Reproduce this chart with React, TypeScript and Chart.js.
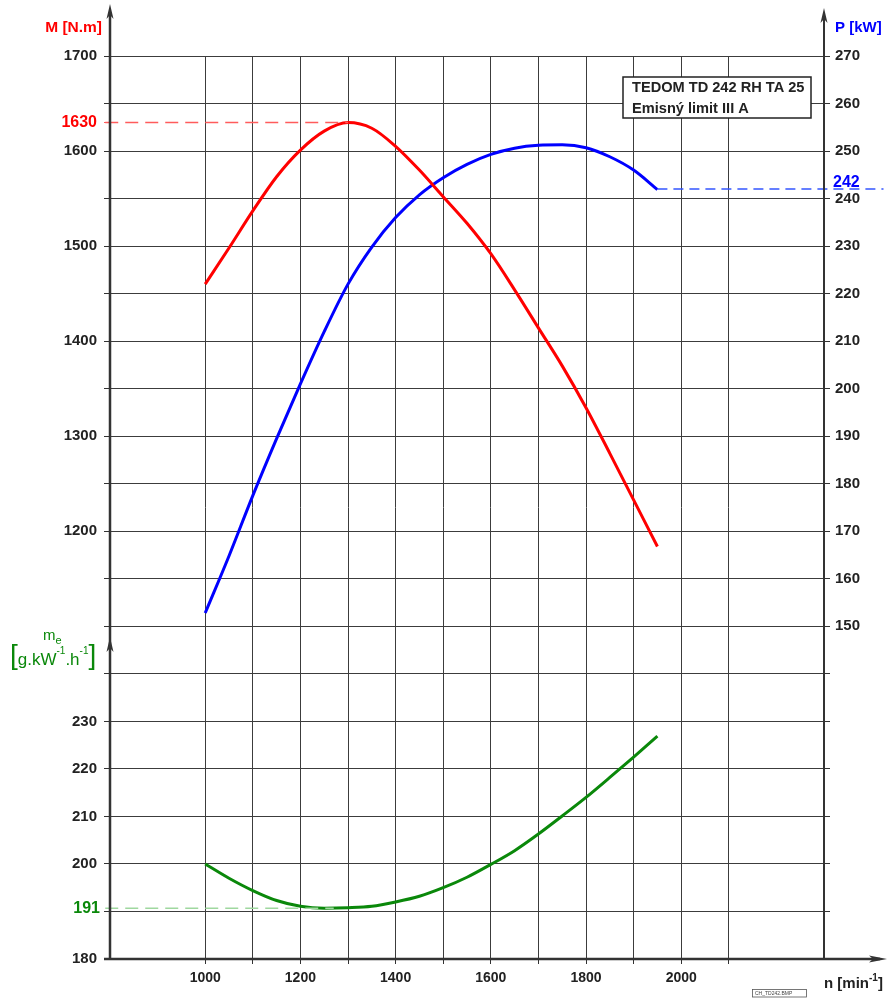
import React, { useEffect, useRef } from "react";
import { Chart, registerables } from "chart.js";

Chart.register(...registerables);

// ---- data ----
const rpm = [1000, 1050, 1100, 1150, 1200, 1250, 1300, 1350, 1400, 1450, 1500, 1550, 1600, 1650, 1700, 1750, 1800, 1850, 1900, 1950];
const torque = [1460, 1498, 1537, 1573, 1601, 1621, 1630, 1624, 1605, 1580, 1552, 1524, 1492, 1454, 1414, 1374, 1330, 1282, 1233, 1184];
const power = [152.8, 164.8, 177.5, 189.5, 201, 212, 222, 229.8, 236, 240.8, 244.4, 247.2, 249.3, 250.6, 251.2, 251.3, 250.7, 248.8, 246, 241.9];
const fuel = [200, 197, 194.4, 192.3, 191.1, 190.7, 190.8, 191.1, 192, 193.2, 195, 197.2, 199.9, 202.8, 206.3, 210.1, 214, 218.2, 222.5, 226.9];

const torqueTickLabels = [1200, 1300, 1400, 1500, 1600, 1700];
const powerTickLabels = [150, 160, 170, 180, 190, 200, 210, 220, 230, 240, 250, 260, 270];
const fuelTickLabels = [180, 200, 210, 220, 230];
const rpmTickLabels = [1000, 1200, 1400, 1600, 1800, 2000];
const rpmGrid = [1000, 1100, 1200, 1300, 1400, 1500, 1600, 1700, 1800, 1900, 2000, 2100];

const peakTorque = 1630;
const peakTorqueRpm = 1300;
const ratedPower = 242;
const ratedRpm = 1950;
const minFuel = 190.7;
const minFuelLabel = "191";
const minFuelRpm = 1270;
const dashStartRpm = 790;
const dashEndRpm = 2425;

const titleLine1 = "TEDOM TD 242 RH TA 25";
const titleLine2 = "Emisný limit III A";

// ---- styles ----
const RED = "#ff0000";
const BLUE = "#0000ff";
const GREEN = "#0a880a";
const RED_DASH = "#ff5c5c";
const BLUE_DASH = "#3355ff";
const GREEN_DASH = "#9fd89f";
const GRID = "#3c3c3c";
const AXIS = "#333333";
const TEXT = "#222222";
const FAMILY = '"Liberation Sans", Arial, Helvetica, sans-serif';
const X_TICK_FONT = { family: FAMILY, size: 14, weight: "bold" as const };
const Y_TICK_FONT = { family: FAMILY, size: 15, weight: "bold" as const };

function arrowUp(ctx: CanvasRenderingContext2D, x: number, y: number) {
  ctx.beginPath();
  ctx.moveTo(x, y);
  ctx.lineTo(x - 3.5, y + 15);
  ctx.lineTo(x, y + 11);
  ctx.lineTo(x + 3.5, y + 15);
  ctx.closePath();
  ctx.fill();
}
function arrowRight(ctx: CanvasRenderingContext2D, x: number, y: number) {
  ctx.beginPath();
  ctx.moveTo(x, y);
  ctx.lineTo(x - 18, y - 3.5);
  ctx.lineTo(x - 14, y);
  ctx.lineTo(x - 18, y + 3.5);
  ctx.closePath();
  ctx.fill();
}

const decorPlugin = {
  id: "decor",
  afterDatasetsDraw(chart: any) {
    const ctx: CanvasRenderingContext2D = chart.ctx;
    const { left, right, bottom } = chart.chartArea;
    const yP = chart.scales.yP;
    const yMe = chart.scales.yMe;
    ctx.save();

    // info box
    const bx = 623, by = 77, bw = 188, bh = 41;
    ctx.fillStyle = "#ffffff";
    ctx.fillRect(bx, by, bw, bh);
    ctx.strokeStyle = "#222";
    ctx.lineWidth = 1.5;
    ctx.strokeRect(bx, by, bw, bh);
    ctx.fillStyle = TEXT;
    ctx.font = `bold 14.6px ${FAMILY}`;
    ctx.textAlign = "left";
    ctx.textBaseline = "alphabetic";
    ctx.fillText(titleLine1, bx + 9, by + 15);
    ctx.fillText(titleLine2, bx + 9, by + 36);

    // axes
    ctx.strokeStyle = AXIS;
    ctx.fillStyle = AXIS;
    ctx.lineWidth = 2.5;
    ctx.beginPath();
    ctx.moveTo(left, bottom);
    ctx.lineTo(left, 12);
    ctx.stroke();
    arrowUp(ctx, left, 4);
    arrowUp(ctx, left, 637);
    ctx.lineWidth = 2;
    ctx.beginPath();
    ctx.moveTo(right, bottom);
    ctx.lineTo(right, 16);
    ctx.stroke();
    arrowUp(ctx, right, 8);
    ctx.lineWidth = 2.5;
    ctx.beginPath();
    ctx.moveTo(left - 6, bottom);
    ctx.lineTo(880, bottom);
    ctx.stroke();
    arrowRight(ctx, 887, bottom);

    // fuel tick labels on left
    ctx.font = `bold 15px ${FAMILY}`;
    ctx.textAlign = "right";
    ctx.textBaseline = "middle";
    ctx.fillStyle = TEXT;
    fuelTickLabels.forEach((v) => {
      ctx.fillText(String(v), left - 13, yMe.getPixelForValue(v));
    });
    ctx.font = `bold 16px ${FAMILY}`;
    ctx.fillStyle = GREEN;
    ctx.fillText(minFuelLabel, left - 10, yMe.getPixelForValue(minFuel));

    // rated power label
    ctx.fillStyle = BLUE;
    ctx.textAlign = "left";
    ctx.fillText(String(ratedPower), right + 9, yP.getPixelForValue(ratedPower) - 6);

    // axis titles
    ctx.textBaseline = "alphabetic";
    ctx.font = `bold 15.5px ${FAMILY}`;
    ctx.fillStyle = RED;
    ctx.textAlign = "right";
    ctx.fillText("M [N.m]", left - 8, 32);
    ctx.font = `bold 15px ${FAMILY}`;
    ctx.fillStyle = BLUE;
    ctx.textAlign = "left";
    ctx.fillText("P [kW]", right + 11, 32);

    // n [min-1]
    ctx.fillStyle = TEXT;
    let nx = 824;
    const nBase = 988;
    ctx.font = `bold 15px ${FAMILY}`;
    ctx.fillText("n [min", nx, nBase);
    nx += ctx.measureText("n [min").width;
    ctx.font = `bold 10px ${FAMILY}`;
    ctx.fillText("-1", nx, nBase - 7);
    nx += ctx.measureText("-1").width;
    ctx.font = `bold 15px ${FAMILY}`;
    ctx.fillText("]", nx, nBase);

    // m_e [g.kW-1.h-1]
    ctx.fillStyle = GREEN;
    ctx.font = `15px ${FAMILY}`;
    ctx.fillText("m", 43, 640);
    const mw = ctx.measureText("m").width;
    ctx.font = `11px ${FAMILY}`;
    ctx.fillText("e", 43 + mw, 644);
    let gx = 10;
    const gBase = 665;
    const parts: [string, number, number][] = [
      ["[", 28, -1],
      ["g.kW", 17, 0],
      ["-1", 10, -11],
      [".h", 17, 0],
      ["-1", 10, -11],
      ["]", 28, -1],
    ];
    parts.forEach(([t, size, dy]) => {
      ctx.font = `${size}px ${FAMILY}`;
      ctx.fillText(t, gx, gBase + dy);
      gx += ctx.measureText(t).width;
    });

    // small file label
    ctx.strokeStyle = "#555";
    ctx.lineWidth = 0.8;
    ctx.strokeRect(752.5, 989.5, 54, 7.5);
    ctx.fillStyle = "#444";
    ctx.font = `5px ${FAMILY}`;
    ctx.textAlign = "left";
    ctx.textBaseline = "middle";
    ctx.fillText("CH_TD242.BMP", 755, 993.5);

    ctx.restore();
  },
};

export default function App() {
  const canvasRef = useRef<HTMLCanvasElement | null>(null);

  useEffect(() => {
    const canvas = canvasRef.current;
    if (!canvas) return;

    const line = (ys: number[]) => rpm.map((x, i) => ({ x, y: ys[i] }));

    const chart = new Chart(canvas, {
      type: "line",
      data: {
        datasets: [
          {
            label: "peak torque",
            data: [{ x: dashStartRpm, y: peakTorque }, { x: peakTorqueRpm, y: peakTorque }],
            yAxisID: "yM",
            borderColor: RED_DASH,
            borderWidth: 1.5,
            borderDash: [13, 7],
            pointRadius: 0,
            clip: false as any,
          },
          {
            label: "rated power",
            data: [{ x: ratedRpm, y: ratedPower }, { x: dashEndRpm, y: ratedPower }],
            yAxisID: "yP",
            borderColor: BLUE_DASH,
            borderWidth: 1.5,
            borderDash: [10, 6],
            pointRadius: 0,
            clip: false as any,
          },
          {
            label: "min fuel",
            data: [{ x: dashStartRpm, y: minFuel }, { x: minFuelRpm, y: minFuel }],
            yAxisID: "yMe",
            borderColor: GREEN_DASH,
            borderWidth: 1.5,
            borderDash: [13, 7],
            pointRadius: 0,
            clip: false as any,
          },
          {
            label: "M",
            data: line(torque),
            yAxisID: "yM",
            borderColor: RED,
            borderWidth: 3,
            pointRadius: 0,
            cubicInterpolationMode: "monotone",
          },
          {
            label: "P",
            data: line(power),
            yAxisID: "yP",
            borderColor: BLUE,
            borderWidth: 3,
            pointRadius: 0,
            cubicInterpolationMode: "monotone",
          },
          {
            label: "me",
            data: line(fuel),
            yAxisID: "yMe",
            borderColor: GREEN,
            borderWidth: 3,
            pointRadius: 0,
            cubicInterpolationMode: "monotone",
          },
        ],
      },
      options: {
        responsive: false,
        animation: false,
        devicePixelRatio: 1,
        layout: { padding: { top: 56, left: 0, right: 0, bottom: 0 } },
        plugins: { legend: { display: false }, tooltip: { enabled: false } },
        scales: {
          x: {
            type: "linear",
            min: 800,
            max: 2300,
            afterBuildTicks: (s: any) => {
              s.ticks = rpmGrid.map((v) => ({ value: v }));
            },
            afterFit: (s: any) => {
              s.height = 39;
            },
            border: { display: false },
            grid: { color: GRID, lineWidth: 1, tickLength: 5, tickColor: AXIS },
            ticks: {
              autoSkip: false,
              maxRotation: 0,
              padding: 6,
              color: TEXT,
              font: X_TICK_FONT,
              callback: (v: any) => (rpmTickLabels.includes(Number(v)) ? String(v) : ""),
            },
          },
          yM: {
            type: "linear",
            position: "left",
            min: 750,
            max: 1700,
            afterBuildTicks: (s: any) => {
              const t: { value: number }[] = [];
              for (let v = 750; v <= 1700; v += 50) t.push({ value: v });
              t.push({ value: peakTorque });
              s.ticks = t;
            },
            afterFit: (s: any) => {
              s.width = 110;
            },
            border: { display: false },
            grid: {
              lineWidth: 1,
              tickLength: 6,
              color: (c: any) => {
                const v = c.tick && c.tick.value;
                return v === peakTorque || v === 750 ? "rgba(0,0,0,0)" : GRID;
              },
              tickColor: (c: any) => (c.tick && c.tick.value === peakTorque ? RED_DASH : AXIS),
            },
            ticks: {
              autoSkip: false,
              padding: 7,
              font: (c: any) =>
                c.tick && c.tick.value === peakTorque
                  ? { family: FAMILY, size: 16, weight: "bold" }
                  : Y_TICK_FONT,
              color: (c: any) => (c.tick && c.tick.value === peakTorque ? RED : TEXT),
              callback: (v: any) => {
                const n = Number(v);
                if (n === peakTorque || torqueTickLabels.includes(n)) return String(n);
                return "";
              },
            },
          },
          yP: {
            type: "linear",
            position: "right",
            min: 80,
            max: 270,
            afterBuildTicks: (s: any) => {
              const t: { value: number }[] = [];
              for (let v = 80; v <= 270; v += 10) t.push({ value: v });
              s.ticks = t;
            },
            afterFit: (s: any) => {
              s.width = 63;
            },
            border: { display: false },
            grid: { drawOnChartArea: false, tickLength: 6, tickColor: AXIS, lineWidth: 1 },
            ticks: {
              autoSkip: false,
              padding: 5,
              font: Y_TICK_FONT,
              color: TEXT,
              callback: (v: any) => (powerTickLabels.includes(Number(v)) ? String(v) : ""),
            },
          },
          yMe: {
            type: "linear",
            display: false,
            min: 180,
            max: 370,
          },
        },
      } as any,
      plugins: [decorPlugin],
    });

    return () => chart.destroy();
  }, []);

  return (
    <div style={{ position: "absolute", left: 0, top: 0, width: 887, height: 998, background: "#fff" }}>
      <canvas ref={canvasRef} width={887} height={998} style={{ display: "block", width: 887, height: 998 }} />
    </div>
  );
}
